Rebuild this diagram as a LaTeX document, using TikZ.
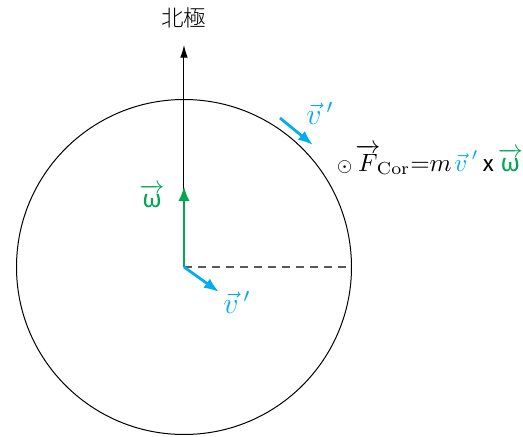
\documentclass[tikz,border=0pt]{standalone}
\usepackage{amsmath}
\usepackage{fontspec}
\newfontfamily\cjk{Noto Sans CJK JP Light}
\newfontfamily\greek{Fira Sans}
\usetikzlibrary{arrows.meta, positioning, calc}

\definecolor{vblue}{RGB}{0,174,239}
\definecolor{wgreen}{RGB}{0,166,81}

\newcommand{\omegavec}{\overrightarrow{\text{\greek ω}}}
\newcommand{\vprime}{\vec{v}\,'}

\begin{document}
\begin{tikzpicture}[
    x=0.4pt, y=0.4pt,
    % Styles
    axis/.style = {-{Latex[length=5pt, width=3pt]}, draw=black, thin},
    omega_arrow/.style = {-{Latex[length=6pt, width=4.5pt]}, draw=wgreen, line width=1.1pt},
    vel_arrow/.style = {-{Latex[length=6pt, width=4.5pt]}, draw=vblue, line width=1.1pt},
    radius_line/.style = {draw=black!65, dash pattern=on 3.2pt off 2.4pt, semithick},
    label/.style = {inner sep=1pt}
]
\useasboundingbox (0,0) rectangle (523,436);

% --- 1. EARTH ---
\coordinate (center) at (184,169);
\node[draw, circle, thin, minimum size=335*0.4pt, inner sep=0pt] (earth) at (center) {};
\coordinate (rim) at (351,169);
\draw[radius_line] (center) -- (rim);

% --- 2. ROTATION AXIS ---
\coordinate (pole) at (184,391);
\draw[axis] (center) -- (pole);
\node[label, font=\cjk\small] (north) at (184,418) {北極};

\coordinate (omega_tip) at (184,250);
\draw[omega_arrow] (center) -- (omega_tip);
\node[label, text=wgreen] (omega_lbl) at (152,240) {$\omegavec$};

% --- 3. VELOCITIES ---
\coordinate (v_tip) at (219,144);
\draw[vel_arrow] (center) -- (v_tip);
\node[label, text=vblue, font=\large] (v_lbl) at (237,134) {$\vprime$};

\coordinate (v2_tail) at (280,318);
\coordinate (v2_tip) at (313,291);
\draw[vel_arrow] (v2_tail) -- (v2_tip);
\node[label, text=vblue, font=\large] (v2_lbl) at (320,323) {$\vprime$};

% --- 4. CORIOLIS FORCE ---
\node[label, anchor=west] (force) at (334,276)
    {$\scriptstyle\odot\displaystyle\mkern2mu\overrightarrow{F}_{\!\mathrm{Cor}}{=}m\mkern2mu\textcolor{vblue}{\vprime}\mkern3mu\text{\greek\small x}\mkern3mu\textcolor{wgreen}{\omegavec}$};

\end{tikzpicture}
\end{document}
